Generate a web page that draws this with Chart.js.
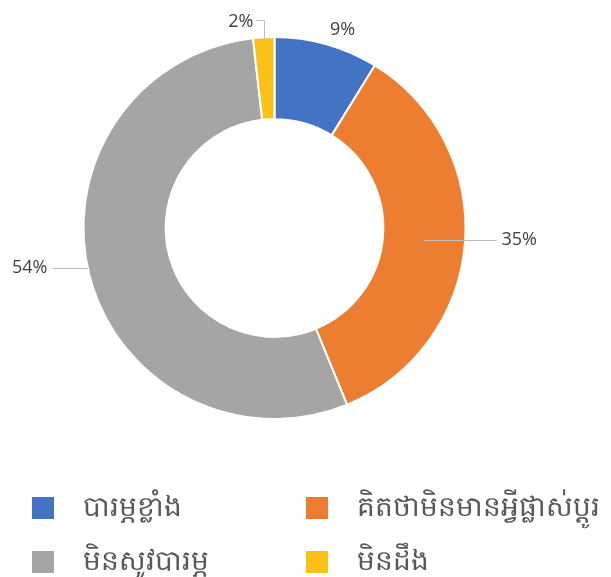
<!DOCTYPE html>
<html>
<head>
<meta charset="utf-8">
<script src="https://cdn.jsdelivr.net/npm/chart.js@4/dist/chart.umd.min.js"></script>
<style>
  body { margin: 0; background: #fff; width: 611px; height: 577px; overflow: hidden; }
  #wrap { position: absolute; left: 0; top: 0; width: 611px; height: 456px; }
  #legend { position: absolute; left: 0; top: 0; width: 611px; height: 577px; pointer-events: none; }
  .item { position: absolute; display: flex; align-items: center; transform: translateY(-50%);
          font-family: "Noto Sans", sans-serif; font-size: 28px; color: #595959; white-space: nowrap; }
  .box { width: 22px; height: 22px; margin-right: 29px; flex: none; }
</style>
</head>
<body>
<div id="wrap"><canvas id="pie"></canvas></div>
<div id="legend"></div>
<script>
const labels = ["បារម្ភខ្លាំង", "គិតថាមិនមានអ្វីផ្លាស់ប្តូរ", "មិនសូវបារម្ភ", "មិនដឹង"];
const values = [8.8, 35.0, 54.4, 1.8];
const colors = ["#4472C4", "#ED7D31", "#A5A5A5", "#FBC116"];

// how each percent label sits round the ring
const labelPlace = [
  { type: "free", r: 22, dx: 10, dy: 7 },
  { type: "side", from: "mid" },
  { type: "side", from: "edge" },
  { type: "elbow" },
];

const outLabels = {
  id: "outLabels",
  afterDatasetsDraw(chart) {
    const ctx = chart.ctx;
    const meta = chart.getDatasetMeta(0);
    const total = values.reduce((a, b) => a + b, 0);
    ctx.save();
    ctx.font = "18px 'Open Sans'";
    ctx.fillStyle = "#404040";
    ctx.strokeStyle = "#bfbfbf";
    ctx.lineWidth = 1;
    meta.data.forEach((arc, i) => {
      const p = arc.getProps(["x", "y", "startAngle", "endAngle", "innerRadius", "outerRadius"], true);
      const mid = (p.startAngle + p.endAngle) / 2;
      const cos = Math.cos(mid), sin = Math.sin(mid);
      const text = Math.round(values[i] / total * 100) + "%";
      const place = labelPlace[i];
      ctx.textBaseline = "middle";
      if (place.type === "free") {
        const r = p.outerRadius + place.r;
        ctx.textAlign = "center";
        ctx.fillText(text, p.x + r * cos + place.dx, p.y + r * sin + place.dy);
      } else if (place.type === "side") {
        const rm = (p.innerRadius + p.outerRadius) / 2;
        const ly = Math.round(p.y + rm * sin + (place.from === "edge" ? 3 : 0));
        const dir = cos >= 0 ? 1 : -1;
        let sx = p.x + rm * cos;
        if (place.from === "edge") {
          const dy = ly - p.y;
          sx = p.x + dir * Math.sqrt(p.outerRadius * p.outerRadius - dy * dy);
        }
        const ex = p.x + dir * (p.outerRadius + 31);
        ctx.beginPath();
        ctx.moveTo(sx, ly + 0.5);
        ctx.lineTo(ex, ly + 0.5);
        ctx.stroke();
        ctx.textAlign = dir > 0 ? "left" : "right";
        ctx.fillText(text, ex + dir * 5, ly);
      } else {
        const sx = Math.round(p.x + p.outerRadius * cos) + 0.5;
        const sy = p.y + p.outerRadius * sin + 4;
        const ty = Math.round(p.y - p.outerRadius - 17);
        ctx.beginPath();
        ctx.moveTo(sx, sy);
        ctx.lineTo(sx, ty + 0.5);
        ctx.lineTo(sx - 8, ty + 0.5);
        ctx.stroke();
        ctx.textAlign = "right";
        ctx.fillText(text, sx - 11, ty + 2);
      }
    });
    ctx.restore();
  },
};

const chart = new Chart(document.getElementById("pie"), {
  type: "doughnut",
  data: {
    labels: labels,
    datasets: [{
      data: values,
      backgroundColor: colors,
      borderColor: "#ffffff",
      borderWidth: 2,
    }],
  },
  options: {
    responsive: true,
    maintainAspectRatio: false,
    animation: false,
    cutout: "57%",
    layout: { padding: { top: 36, bottom: 36, left: 0, right: 62 } },
    plugins: {
      legend: { display: false },
      tooltip: { enabled: false },
    },
  },
  plugins: [outLabels],
});

// legend, two columns under the ring
const legend = document.getElementById("legend");
labels.forEach((name, i) => {
  const item = document.createElement("div");
  item.className = "item";
  item.style.left = 32 + (i % 2) * 274 + "px";
  item.style.top = 508 + Math.floor(i / 2) * 54 + "px";
  item.innerHTML = `<span class="box" style="background:${colors[i]}"></span><span>${name}</span>`;
  legend.appendChild(item);
});
</script>
</body>
</html>
